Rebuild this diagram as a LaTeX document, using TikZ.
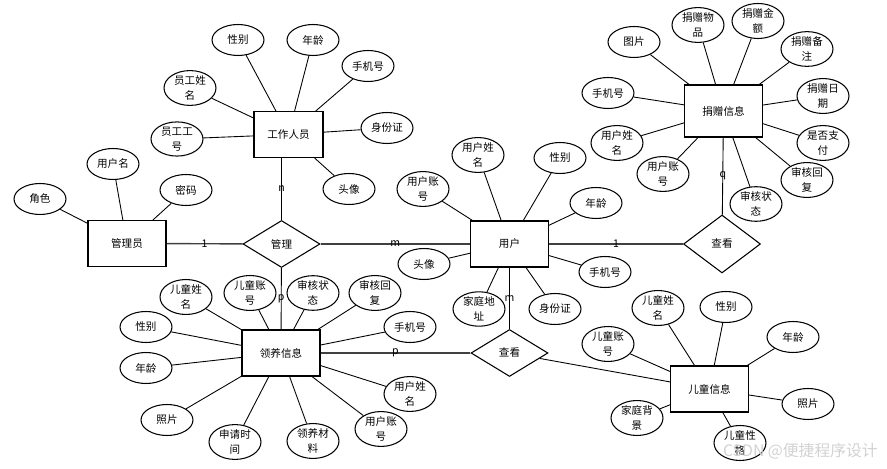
\documentclass[tikz,border=0pt]{standalone}
\usepackage{fontspec}
\setmainfont{Noto Sans CJK SC}
\usetikzlibrary{shapes.geometric}

\begin{document}
\begin{tikzpicture}[
    x=0.02cm, y=-0.02cm,
    font=\fontsize{6}{8.5}\selectfont,
    entity/.style={draw, line width=0.6pt, minimum width=1.56cm, minimum height=0.92cm, inner sep=0pt},
    rel/.style={draw, diamond, line width=0.6pt, minimum width=1.54cm, minimum height=0.94cm, inner sep=0pt},
    attr/.style={draw, ellipse, line width=0.6pt, minimum width=1.04cm, minimum height=0.62cm, inner sep=0pt, align=center},
    card/.style={font=\fontsize{6}{7}\selectfont, inner sep=1pt},
    link/.style={line width=0.5pt},
    rlink/.style={line width=0.8pt, draw=black!75}
]
    \useasboundingbox (0,0) rectangle (887,469);

    % Entities
    \node[entity, minimum width=1.38cm] (staff) at (288.5,134.5) {工作人员};
    \node[entity] (admin) at (127,243.5) {管理员};
    \node[entity] (user) at (509.5,244) {用户};
    \node[entity, minimum height=1.04cm] (don) at (723.5,111) {捐赠信息};
    \node[entity] (adopt) at (281,353) {领养信息};
    \node[entity] (child) at (709.5,389) {儿童信息};

    % Relationships
    \node[rel] (mg) at (281.5,244) {管理};
    \node[rel, minimum height=1.16cm] (vw1) at (722,244) {查看};
    \node[rel] (vw2) at (509.5,353) {查看};

    % Attributes of 工作人员
    \foreach \txt/\x/\y [count=\i] in {性别/238/40, 年龄/313/40, 手机号/368/66,
        {员工姓\\名}/190/88, {员工工\\号}/177/139, 身份证/387/128, 头像/349/189} {
        \node[attr] (st\i) at (\x,\y) {\txt};
        \draw[link] (st\i) -- (staff);
    }

    % Attributes of 管理员
    \foreach \txt/\x/\y [count=\i] in {角色/40/199, 用户名/113/164, 密码/186/190} {
        \node[attr] (ad\i) at (\x,\y) {\txt};
        \draw[link] (ad\i) -- (admin);
    }

    % Attributes of 用户
    \foreach \txt/\x/\y [count=\i] in {{用户账\\号}/423/189, {用户姓\\名}/478/155, 性别/560/158,
        年龄/596/203, 手机号/605/272, 身份证/555/309, {家庭地\\址}/479/309, 头像/424/264} {
        \node[attr] (us\i) at (\x,\y) {\txt};
        \draw[link] (us\i) -- (user);
    }

    % Attributes of 捐赠信息
    \foreach \txt/\x/\y [count=\i] in {图片/634/42, {捐赠物\\品}/698/25, {捐赠金\\额}/758/21,
        {捐赠备\\注}/807/49, {捐赠日\\期}/823/96, {是否支\\付}/823/143, {审核回\\复}/807/180,
        {审核状\\态}/756/204, {用户账\\号}/663/174, {用户姓\\名}/617/143, 手机号/608/93} {
        \node[attr] (dn\i) at (\x,\y) {\txt};
        \draw[link] (dn\i) -- (don);
    }

    % Attributes of 领养信息
    \foreach \txt/\x/\y [count=\i] in {{儿童姓\\名}/186/297, {儿童账\\号}/250/293, {审核状\\态}/313/293,
        {审核回\\复}/375/293, 手机号/410/327, {用户姓\\名}/410/394, {用户账\\号}/381/429,
        {领养材\\料}/313/441, {申请时\\间}/235/442, 照片/167/420, 年龄/146/368, 性别/146/327} {
        \node[attr] (ap\i) at (\x,\y) {\txt};
        \draw[link] (ap\i) -- (adopt);
    }

    % Attributes of 儿童信息
    \foreach \txt/\x/\y [count=\i] in {{儿童姓\\名}/658/308, 性别/726/307, 年龄/793/337, 照片/808/404,
        {儿童性\\格}/740/443, {家庭背\\景}/637/418, {儿童账\\号}/608/344} {
        \node[attr] (ch\i) at (\x,\y) {\txt};
        \draw[link] (ch\i) -- (child);
    }

    % Relationship connectors
    \draw[rlink] (admin) -- (mg) node[card, midway] {1};
    \draw[rlink] (mg) -- (user) node[card, midway] {m};
    \draw[link] (mg) -- (mg |- staff.south) node[card, midway] {n};
    \draw[link] (mg) -- (adopt) node[card, midway] {p};
    \draw[rlink] (user) -- (vw1) node[card, midway] {1};
    \draw[link] (vw1) -- (don) node[card, midway] {q};
    \draw[link] (user) -- (vw2) node[card, midway] {m};
    \draw[rlink] (adopt) -- (vw2) node[card, midway] {p};
    \draw[link] (vw2) -- (child);

    % watermark
    \node[text=gray!35, font=\fontsize{9}{10}\selectfont, anchor=east] (wm) at (884,451) {CSDN @便捷程序设计};

\end{tikzpicture}
\end{document}
